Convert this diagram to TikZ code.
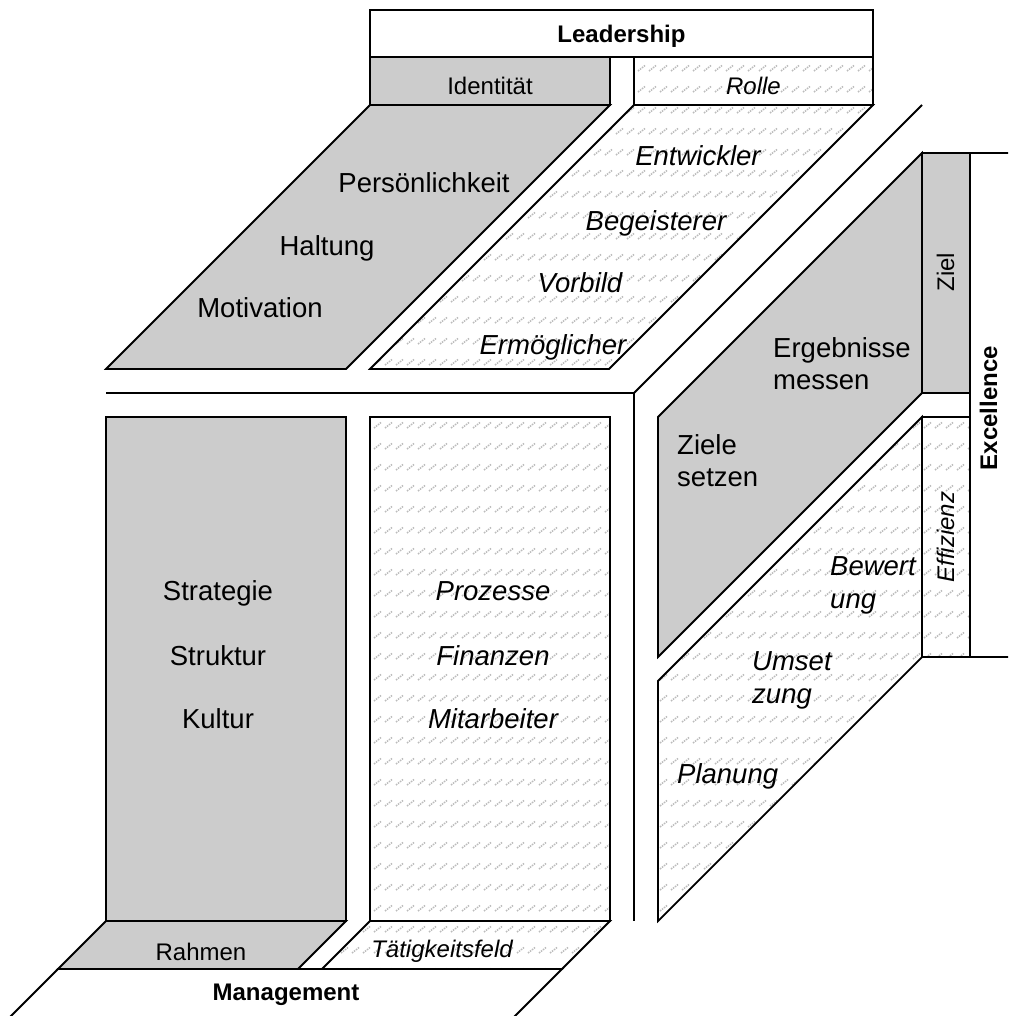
\documentclass[tikz,border=0pt]{standalone}
\usepackage{fontspec}
\setmainfont{Liberation Sans}
\usetikzlibrary{patterns}
\definecolor{panelgray}{RGB}{204,204,204}
\definecolor{hatchgray}{RGB}{188,188,188}
\pgfdeclarepatternformonly{dashhatch}{\pgfqpoint{-1pt}{-1pt}}{\pgfqpoint{12pt}{22pt}}{\pgfqpoint{11pt}{21pt}}{%
  \pgfsetlinewidth{1.5pt}%
  \pgfsetdash{{1.5pt}{1.0pt}}{0pt}%
  \pgfpathmoveto{\pgfqpoint{0pt}{0pt}}%
  \pgfpathlineto{\pgfqpoint{7pt}{5.5pt}}%
  \pgfusepath{stroke}}
\tikzset{
  panel/.style={draw=black, line width=1.8pt, line join=miter},
  graypanel/.style={panel, fill=panelgray},
  hatchpanel/.style={panel, pattern=dashhatch, pattern color=hatchgray},
  whitepanel/.style={panel, fill=white},
  bigtxt/.style={font=\fontsize{27.5}{32}\selectfont, inner sep=0pt},
  bigit/.style={font=\fontsize{27.5}{32}\selectfont\itshape, inner sep=0pt},
  smalltxt/.style={font=\fontsize{24}{28}\selectfont, inner sep=0pt},
  smallit/.style={font=\fontsize{24}{28}\selectfont\itshape, inner sep=0pt},
  headtxt/.style={font=\fontsize{24}{28}\selectfont\bfseries, inner sep=0pt},
}
\begin{document}
\begin{tikzpicture}[x=1pt, y=-1pt]
\useasboundingbox (0,0) rectangle (1008,1016);
\clip (0,0) rectangle (1008,1016);
\fill[white] (0,0) rectangle (1008,1016);

% Leadership (top)
\draw[whitepanel] (370,10) rectangle (873,57);
\draw[graypanel] (370,57) rectangle (610,105);
\draw[hatchpanel] (634,57) rectangle (873,105);
\draw[graypanel] (370,105) -- (610,105) -- (346,369) -- (106,369) -- cycle;
\draw[hatchpanel] (634,105) -- (873,105) -- (609,369) -- (370,369) -- cycle;

% separators
\draw[panel] (106,393) -- (634,393) -- (922,105);
\draw[panel] (634,393) -- (634,921);

% Management (left / bottom)
\draw[graypanel] (106,417) rectangle (346,921);
\draw[hatchpanel] (370,417) rectangle (610,921);
\draw[graypanel] (106,921) -- (346,921) -- (298,969) -- (58,969) -- cycle;
\draw[hatchpanel] (370,921) -- (610,921) -- (562,969) -- (322,969) -- cycle;
\draw[whitepanel] (58,969) -- (562,969) -- (508,1023) -- (4,1023) -- cycle;

% Excellence (right)
\draw[graypanel] (658,417) -- (922,153) -- (922,393) -- (658,657) -- cycle;
\draw[hatchpanel] (658,681) -- (922,417) -- (922,657) -- (658,921) -- cycle;
\draw[whitepanel] (970,153) rectangle (1030,657);
\draw[graypanel] (922,153) rectangle (970,393);
\draw[hatchpanel] (922,417) rectangle (970,657);

% texts
\node[headtxt, anchor=base] (tLead) at (621.5,43) {Leadership};
\node[smalltxt, anchor=base] (tIdent) at (490,95) {Identität};
\node[smallit, anchor=base] (tRolle) at (753.5,95) {Rolle};

\node[bigtxt, anchor=base] (tPers) at (424,193) {Persönlichkeit};
\node[bigtxt, anchor=base] (tHalt) at (327,255) {Haltung};
\node[bigtxt, anchor=base] (tMoti) at (260,317) {Motivation};

\node[bigit, anchor=base] (tEntw) at (698,166) {Entwickler};
\node[bigit, anchor=base] (tBeg) at (656,230) {Begeisterer};
\node[bigit, anchor=base] (tVorb) at (580,292) {Vorbild};
\node[bigit, anchor=base] (tErm) at (553,354) {Ermöglicher};

\node[bigtxt, anchor=base] (tStrat) at (218,600) {Strategie};
\node[bigtxt, anchor=base] (tStruk) at (218,665) {Struktur};
\node[bigtxt, anchor=base] (tKult) at (218,728) {Kultur};

\node[bigit, anchor=base] (tProz) at (493,600) {Prozesse};
\node[bigit, anchor=base] (tFin) at (493,665) {Finanzen};
\node[bigit, anchor=base] (tMit) at (493,728) {Mitarbeiter};

\node[smalltxt, anchor=base] (tRahm) at (201,960) {Rahmen};
\node[smallit, anchor=base] (tTaet) at (442,957) {Tätigkeitsfeld};
\node[headtxt, anchor=base] (tMan) at (286,1000) {Management};

\node[bigtxt, anchor=base west] (tErgA) at (773,357) {Ergebnisse};
\node[bigtxt, anchor=base west] (tErgB) at (773,389) {messen};
\node[bigtxt, anchor=base west] (tZielA) at (677,454) {Ziele};
\node[bigtxt, anchor=base west] (tZielB) at (677,486) {setzen};
\node[bigit, anchor=base west] (tBewA) at (830,575) {Bewert};
\node[bigit, anchor=base west] (tBewB) at (830,608) {ung};
\node[bigit, anchor=base west] (tUmsA) at (752,670) {Umset};
\node[bigit, anchor=base west] (tUmsB) at (752,703) {zung};
\node[bigit, anchor=base west] (tPlan) at (677,783) {Planung};

\node[smalltxt, anchor=base, rotate=90] (tZiel) at (954,272) {Ziel};
\node[smallit, anchor=base, rotate=90] (tEffi) at (954,537) {Effizienz};
\node[headtxt, anchor=base, rotate=90] (tExc) at (997,408) {Excellence};
\end{tikzpicture}
\end{document}
